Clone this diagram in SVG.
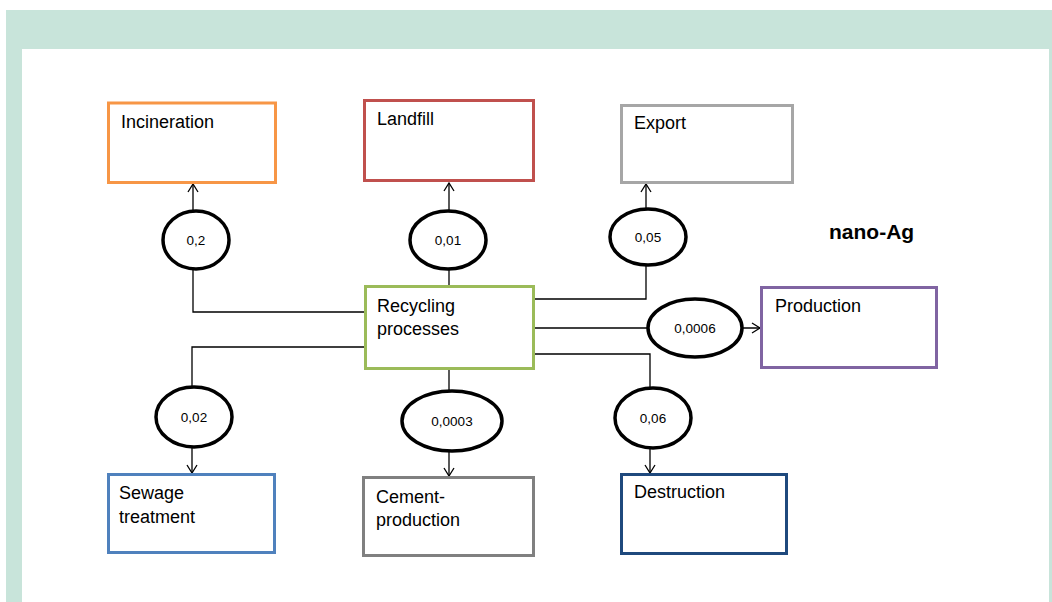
<svg xmlns="http://www.w3.org/2000/svg" width="1052" height="602" viewBox="0 0 1052 602">
<defs>
<style>
.box{fill:#fff;stroke-width:3}
.lbl{font-family:"Liberation Sans",Arial,sans-serif;font-size:18px;fill:#000}
.val{font-family:"Liberation Sans",Arial,sans-serif;font-size:13.5px;fill:#000;text-anchor:middle}
.conn{fill:none;stroke:#000;stroke-width:1.3}
.ell{fill:#fff;stroke:#000;stroke-width:3.5}
</style>
<marker id="arr" viewBox="-10 -7 12 14" refX="0" refY="0" markerWidth="12" markerHeight="14" markerUnits="userSpaceOnUse" orient="auto">
<path d="M-8,-5 L0,0 L-8,5" fill="none" stroke="#000" stroke-width="1.3"/>
</marker>
</defs>
<rect x="0" y="0" width="1052" height="602" fill="#fff"/>
<g id="frame" fill="#C8E4DA">
<rect x="6" y="10" width="1046" height="39"/>
<rect x="6" y="10" width="16" height="592"/>
<rect x="1049" y="10" width="3" height="592"/>
</g>
<g id="connectors">
<path class="conn" d="M364,312 H193 V184" marker-end="url(#arr)"/>
<path class="conn" d="M449,285 V183" marker-end="url(#arr)"/>
<path class="conn" d="M535,299 H646 V184" marker-end="url(#arr)"/>
<path class="conn" d="M535,328 H760" marker-end="url(#arr)"/>
<path class="conn" d="M364,347 H192 V473" marker-end="url(#arr)"/>
<path class="conn" d="M449,370 V476" marker-end="url(#arr)"/>
<path class="conn" d="M535,354 H650 V473" marker-end="url(#arr)"/>
<g id="flow-incineration"><ellipse class="ell" cx="196" cy="240" rx="33" ry="29"/><text class="val" x="196" y="245">0,2</text></g>
<g id="flow-landfill"><ellipse class="ell" cx="448" cy="240" rx="38" ry="29"/><text class="val" x="448" y="245">0,01</text></g>
<g id="flow-export"><ellipse class="ell" cx="648" cy="237" rx="38" ry="28"/><text class="val" x="648" y="242">0,05</text></g>
<g id="flow-production"><ellipse class="ell" cx="695" cy="328" rx="47" ry="29"/><text class="val" x="695" y="333">0,0006</text></g>
<g id="flow-sewage"><ellipse class="ell" cx="194" cy="417" rx="38" ry="30"/><text class="val" x="194" y="422">0,02</text></g>
<g id="flow-cement"><ellipse class="ell" cx="452" cy="421" rx="50" ry="30"/><text class="val" x="452" y="426">0,0003</text></g>
<g id="flow-destruction"><ellipse class="ell" cx="653" cy="418" rx="38" ry="30"/><text class="val" x="653" y="423">0,06</text></g>
</g>
<g id="incineration"><rect class="box" x="108.5" y="103" width="167" height="79.5" stroke="#F79646"/><text class="lbl" x="121" y="128">Incineration</text></g>
<g id="landfill"><rect class="box" x="364.5" y="100.5" width="169" height="80" stroke="#C0504D"/><text class="lbl" x="377" y="125">Landfill</text></g>
<g id="export"><rect class="box" x="621.5" y="105.5" width="171" height="77" stroke="#A6A6A6"/><text class="lbl" x="634" y="129">Export</text></g>
<g id="production"><rect class="box" x="761.5" y="287.5" width="175" height="80" stroke="#8064A2"/><text class="lbl" x="775" y="312">Production</text></g>
<g id="recycling"><rect class="box" x="365.5" y="286.5" width="168" height="82" stroke="#9BBB59"/><text class="lbl" x="377" y="312">Recycling</text><text class="lbl" x="377" y="335">processes</text></g>
<g id="sewage"><rect class="box" x="108.5" y="474.5" width="166" height="78" stroke="#4F81BD"/><text class="lbl" x="119" y="499">Sewage</text><text class="lbl" x="119" y="523">treatment</text></g>
<g id="cement"><rect class="box" x="363.5" y="477.5" width="170" height="78" stroke="#808080"/><text class="lbl" x="376" y="503">Cement-</text><text class="lbl" x="376" y="526">production</text></g>
<g id="destruction"><rect class="box" x="621.5" y="474.5" width="165" height="79" stroke="#1F497D"/><text class="lbl" x="634" y="498">Destruction</text></g>
<g id="title"><text x="829" y="239" font-family="'Liberation Sans',Arial,sans-serif" font-size="21" font-weight="bold">nano-Ag</text></g>
</svg>
